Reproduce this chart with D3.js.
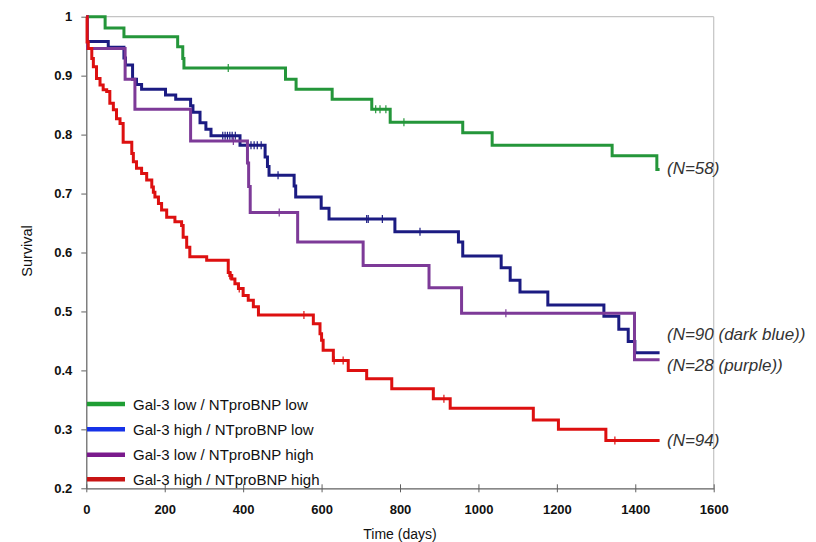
<!DOCTYPE html>
<html>
<head>
<meta charset="utf-8">
<script src="https://cdn.jsdelivr.net/npm/d3@7"></script>
<style>
  html, body { margin: 0; padding: 0; background: #fff; }
  svg { display: block; }
</style>
</head>
<body>
<svg id="chart" width="816" height="542"></svg>
<script>
// Kaplan-Meier survival by Gal-3 / NTproBNP group (time in days)
const xTicks = [0, 200, 400, 600, 800, 1000, 1200, 1400, 1600];
const yTicks = [0.2, 0.3, 0.4, 0.5, 0.6, 0.7, 0.8, 0.9, 1];
const yTickLabels = ["0.2", "0.3", "0.4", "0.5", "0.6", "0.7", "0.8", "0.9", "1"];

const legendLabels = [
  "Gal-3 low / NTproBNP low",
  "Gal-3 high / NTproBNP low",
  "Gal-3 low / NTproBNP high",
  "Gal-3 high / NTproBNP high"
];
const groupNotes = ["(N=58)", "(N=90 (dark blue))", "(N=28 (purple))", "(N=94)"];

// Gal-3 low / NTproBNP low
const greenTimes = [0, 48, 96, 233, 246, 249, 508, 535, 627, 728, 775, 960, 1035, 1341, 1455, 1462];
const greenSurv  = [1, 0.981, 0.966, 0.949, 0.929, 0.913, 0.894, 0.877, 0.860, 0.843, 0.821, 0.803, 0.782, 0.764, 0.741, 0.741];
const greenCensor = [362, 738, 749, 764, 810];

// Gal-3 high / NTproBNP low
const blueTimes = [0, 3, 56, 96, 100, 118, 128, 141, 202, 228, 266, 272, 290, 305, 318, 392, 456, 462, 466, 530, 534, 599, 619, 787, 949, 960, 1058, 1081, 1106, 1177, 1320, 1358, 1382, 1399, 1462];
const blueSurv  = [1, 0.958, 0.948, 0.930, 0.918, 0.894, 0.885, 0.877, 0.867, 0.860, 0.849, 0.838, 0.820, 0.809, 0.798, 0.782, 0.762, 0.746, 0.731, 0.713, 0.694, 0.675, 0.657, 0.635, 0.618, 0.594, 0.574, 0.553, 0.533, 0.511, 0.492, 0.470, 0.449, 0.430, 0.430];
const blueCensor = [348, 354, 360, 366, 372, 380, 420, 428, 436, 446, 489, 715, 719, 755, 851];

// Gal-3 low / NTproBNP high
const purpleTimes = [0, 3, 99, 124, 266, 411, 414, 418, 539, 706, 874, 957, 1398, 1462];
const purpleSurv  = [1, 0.946, 0.894, 0.843, 0.789, 0.752, 0.712, 0.668, 0.618, 0.578, 0.540, 0.497, 0.418, 0.418];
const purpleCensor = [375, 492, 1070];

// Gal-3 high / NTproBNP high
const redTimes = [0, 2, 5, 14, 18, 26, 35, 43, 52, 60, 69, 77, 86, 94, 116, 120, 128, 141, 154, 167, 171, 175, 184, 192, 205, 226, 243, 247, 256, 264, 307, 362, 366, 371, 379, 388, 400, 413, 426, 439, 579, 596, 600, 604, 630, 668, 715, 779, 885, 928, 1140, 1204, 1325, 1462];
const redSurv  = [1, 0.957, 0.946, 0.929, 0.915, 0.895, 0.884, 0.876, 0.873, 0.853, 0.842, 0.827, 0.819, 0.787, 0.768, 0.754, 0.743, 0.734, 0.723, 0.711, 0.702, 0.694, 0.683, 0.672, 0.660, 0.652, 0.646, 0.626, 0.609, 0.593, 0.587, 0.566, 0.561, 0.555, 0.547, 0.539, 0.527, 0.519, 0.508, 0.494, 0.479, 0.462, 0.451, 0.434, 0.417, 0.400, 0.386, 0.369, 0.352, 0.336, 0.316, 0.300, 0.281, 0.281];
const redCensor = [366, 369, 390, 555, 632, 655, 912, 1348];

const groups = [
  { times: greenTimes,  surv: greenSurv,  censor: greenCensor,  line: "#24963a", key: "#1f9e34" },
  { times: blueTimes,   surv: blueSurv,   censor: blueCensor,   line: "#1b1b82", key: "#1632e8" },
  { times: purpleTimes, surv: purpleSurv, censor: purpleCensor, line: "#7d3a98", key: "#7a1a8c" },
  { times: redTimes,    surv: redSurv,    censor: redCensor,    line: "#dd1010", key: "#c81414" }
];

const svg = d3.select("#chart");
const plotL = 86.3, plotR = 713.7, plotT = 16.7, plotB = 488.3;
const font = "Liberation Sans, Arial, sans-serif";

const x = d3.scaleLinear().domain([0, 1600]).range([plotL, plotR]);
const y = d3.scaleLinear().domain([0.2, 1]).range([plotB, plotT]);

svg.append("rect").attr("width", 816).attr("height", 542).attr("fill", "#fff");

// light frame on top and right
svg.append("line").attr("x1", plotL).attr("x2", plotR).attr("y1", plotT).attr("y2", plotT)
  .attr("stroke", "#c4c4c4").attr("stroke-width", 1.2);
svg.append("line").attr("x1", plotR).attr("x2", plotR).attr("y1", plotT).attr("y2", plotB)
  .attr("stroke", "#c4c4c4").attr("stroke-width", 1.2);

// y axis
const yAxis = svg.append("g")
  .attr("transform", `translate(${plotL},0)`)
  .call(d3.axisLeft(y).tickValues(yTicks).tickFormat((d, i) => yTickLabels[i])
    .tickSizeInner(5).tickSizeOuter(0).tickPadding(9));
yAxis.select(".domain").attr("stroke", "#606060").attr("stroke-width", 1.2);
yAxis.selectAll(".tick line").attr("stroke", "#606060");
yAxis.selectAll(".tick text")
  .attr("font-family", font)
  .attr("font-size", 13).attr("font-weight", "bold").attr("fill", "#111");

// x axis (ticks cross the axis line)
const xAxis = svg.append("g")
  .attr("transform", `translate(0,${plotB})`)
  .call(d3.axisBottom(x).tickValues(xTicks).tickFormat(d3.format("d"))
    .tickSizeInner(4).tickSizeOuter(0).tickPadding(12.5));
xAxis.select(".domain").attr("stroke", "#606060").attr("stroke-width", 1.2);
xAxis.selectAll(".tick line").attr("stroke", "#606060").attr("y1", -4);
xAxis.selectAll(".tick text")
  .attr("font-family", font)
  .attr("font-size", 13).attr("font-weight", "bold").attr("fill", "#111");

// axis titles
svg.append("text").attr("x", 400).attr("y", 539).attr("text-anchor", "middle")
  .attr("font-family", font).attr("font-size", 14)
  .attr("fill", "#111").text("Time (days)");
svg.append("text").attr("transform", "translate(31.5,251) rotate(-90)").attr("text-anchor", "middle")
  .attr("font-family", font).attr("font-size", 14.5)
  .attr("fill", "#111").text("Survival");

// survival curves
const step = d3.line().x(d => x(d[0])).y(d => y(d[1])).curve(d3.curveStepAfter);

groups.forEach(g => {
  const pts = g.times.map((t, i) => [t, g.surv[i]]);
  svg.append("path").datum(pts)
    .attr("d", step).attr("fill", "none")
    .attr("stroke", g.line).attr("stroke-width", 3).attr("stroke-linejoin", "miter");
  // censoring marks
  const survAt = t => {
    let s = g.surv[0];
    for (let i = 0; i < g.times.length; i++) if (g.times[i] <= t) s = g.surv[i];
    return s;
  };
  svg.append("g").selectAll("line").data(g.censor).join("line")
    .attr("x1", d => x(d)).attr("x2", d => x(d))
    .attr("y1", d => y(survAt(d)) - 4).attr("y2", d => y(survAt(d)) + 4)
    .attr("stroke", g.line).attr("stroke-width", 1.2);
});

// group size notes
const noteY = [173.5, 339.5, 370.5, 445.5];
svg.append("g").selectAll("text").data(groupNotes).join("text")
  .attr("x", 667).attr("y", (d, i) => noteY[i])
  .attr("font-family", font).attr("font-size", 17)
  .attr("font-style", "italic").attr("fill", "#333").text(d => d);

// legend
const legY = [404, 429.3, 454.7, 479.3];
const leg = svg.append("g");
legendLabels.forEach((lab, i) => {
  leg.append("line").attr("x1", 87).attr("x2", 125).attr("y1", legY[i]).attr("y2", legY[i])
    .attr("stroke", groups[i].key).attr("stroke-width", 4.5);
  leg.append("text").attr("x", 133).attr("y", legY[i] + 5.5)
    .attr("font-family", font).attr("font-size", 15)
    .attr("fill", "#111").text(lab);
});
</script>
</body>
</html>
